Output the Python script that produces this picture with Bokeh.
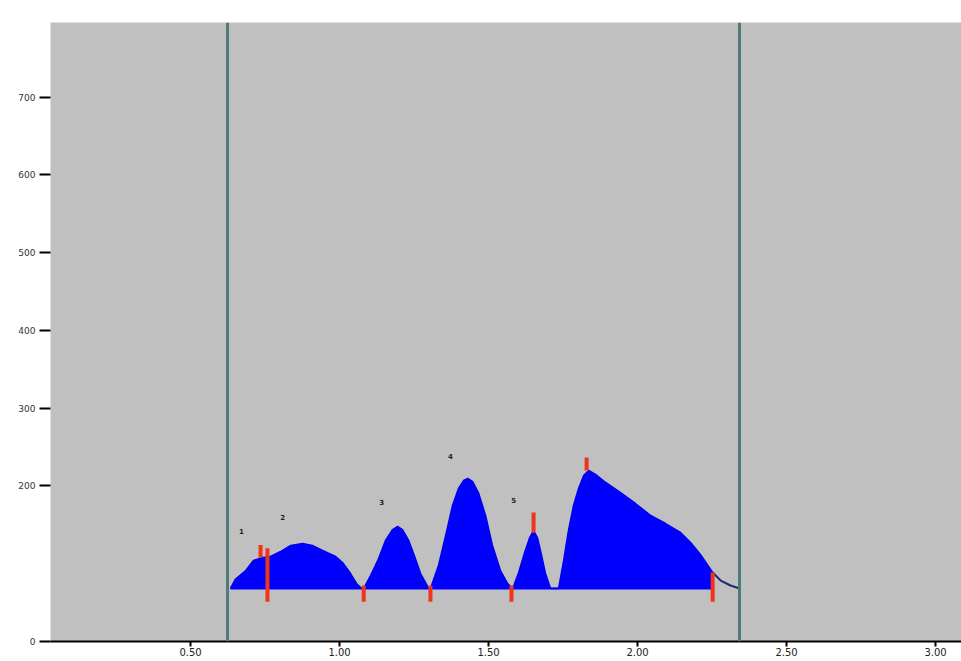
from bokeh.plotting import figure
from bokeh.models import Range1d, FixedTicker, Span
from bokeh.core.properties import value
from bokeh.embed import file_html
from bokeh.resources import INLINE

# retention time (min) and detector signal
time = [0.634, 0.651, 0.685, 0.711, 0.742, 0.768, 0.802, 0.836, 0.876, 0.909,
        0.943, 0.987, 1.010, 1.037, 1.057, 1.074, 1.081, 1.104, 1.131, 1.154,
        1.178, 1.195, 1.211, 1.232, 1.252, 1.272, 1.299, 1.305, 1.332, 1.356,
        1.379, 1.399, 1.416, 1.430, 1.446, 1.466, 1.490, 1.513, 1.540, 1.564,
        1.581, 1.601, 1.621, 1.638, 1.651, 1.664, 1.678, 1.691, 1.708, 1.721,
        1.735, 1.752, 1.768, 1.785, 1.802, 1.819, 1.836, 1.859, 1.893, 1.943,
        1.993, 2.044, 2.094, 2.144, 2.178, 2.211, 2.252, 2.279, 2.312, 2.342]
signal = [68.2, 80.4, 91.3, 104.2, 108.0, 109.3, 115.7, 123.5, 126.0, 123.5,
          117.0, 109.3, 101.6, 87.4, 74.6, 68.2, 68.2, 84.9, 106.7, 129.9,
          144.0, 147.9, 144.0, 129.9, 109.3, 87.4, 68.2, 68.2, 97.7, 136.3,
          174.9, 196.8, 207.0, 209.6, 205.8, 191.6, 162.0, 123.5, 91.3, 74.6,
          68.2, 88.7, 114.5, 133.7, 142.7, 133.7, 110.6, 87.4, 68.2, 68.2,
          68.2, 104.2, 142.7, 174.9, 196.8, 213.5, 219.9, 214.8, 204.5, 191.6,
          177.5, 162.0, 151.7, 140.2, 127.3, 111.9, 88.7, 78.4, 72.0, 68.2]
baseline = 68.2

# integration window
window = [0.624, 2.342]

# peak boundary drop lines
drop_times = [0.758, 1.081, 1.305, 1.577, 2.252]
drop_tops = [120.0, 72.0, 72.0, 72.0, 88.7]
drop_bottom = 51.0

# apex marks
apex_times = [0.735, 1.651, 1.829]
apex_lo = [108.0, 140.0, 219.9]
apex_hi = [124.0, 165.9, 236.6]

# peak labels
label_x = [0.671, 0.809, 1.141, 1.372, 1.584]
label_y = [142.7, 159.5, 178.8, 237.9, 182.6]
label_txt = ["1", "2", "3", "4", "5"]

# axis ticks
x_ticks = [0.5, 1.0, 1.5, 2.0, 2.5, 3.0]
x_labels = ["0.50", "1.00", "1.50", "2.00", "2.50", "3.00"]
y_ticks = [0, 200, 300, 400, 500, 600, 700]
y_labels = ["0", "200", "300", "400", "500", "600", "700"]

p = figure(width=961, height=661, output_backend="svg", toolbar_location=None,
           x_range=Range1d(0.030, 3.087), y_range=Range1d(0, 796),
           min_border_left=50, min_border_right=0, min_border_top=22,
           min_border_bottom=20)
p.background_fill_color = "#c0c0c0"
p.border_fill_color = "white"
p.outline_line_color = None
p.grid.visible = False

fill_end = drop_times[-1]
ft = [t for t in time if t <= fill_end]
fs = signal[:len(ft)]
p.varea(x=ft, y1=[baseline] * len(ft), y2=fs, fill_color="#0000ff")
p.line(ft, fs, line_color="#0000ee", line_width=1.5)
tt = time[len(ft) - 1:]
ts = signal[len(ft) - 1:]
p.line(tt, ts, line_color="#1c2a78", line_width=2)
p.line(ft, [baseline] * len(ft), line_color="#0000ff", line_width=2)

for w in window:
    p.add_layout(Span(location=w, dimension="height", line_color="#4d7b78",
                      line_width=3))

p.segment(x0=drop_times, y0=drop_tops, x1=drop_times,
          y1=[drop_bottom] * len(drop_times), line_color="#f0341c", line_width=4)
p.segment(x0=apex_times, y0=apex_lo, x1=apex_times, y1=apex_hi,
          line_color="#f0341c", line_width=4)

p.text(x=label_x, y=label_y, text=label_txt, text_font=value("DejaVu Sans"),
       text_font_size="7px", text_color="#222222", text_align="center",
       text_baseline="middle", text_font_style="bold")

xa = p.xaxis[0]
xa.ticker = FixedTicker(ticks=x_ticks)
xa.major_label_overrides = dict(zip(x_ticks, x_labels))
xa.axis_line_color = "black"
xa.axis_line_width = 2
xa.major_tick_line_color = "black"
xa.major_tick_line_width = 2
xa.major_tick_out = 5
xa.major_tick_in = 0
xa.minor_tick_line_color = None
xa.major_label_standoff = 1
xa.major_label_text_font = "DejaVu Sans"
xa.major_label_text_font_size = "10px"
xa.major_label_text_color = "#222222"

ya = p.yaxis[0]
ya.ticker = FixedTicker(ticks=y_ticks)
ya.major_label_overrides = dict(zip(y_ticks, y_labels))
ya.axis_line_color = None
ya.major_tick_line_color = "black"
ya.major_tick_line_width = 2
ya.major_tick_out = 11
ya.major_tick_in = 0
ya.minor_tick_line_color = None
ya.major_label_standoff = 4
ya.major_label_text_font = "DejaVu Sans"
ya.major_label_text_font_size = "9px"
ya.major_label_text_color = "#333333"

open("out.html", "w").write(file_html(p, INLINE))
